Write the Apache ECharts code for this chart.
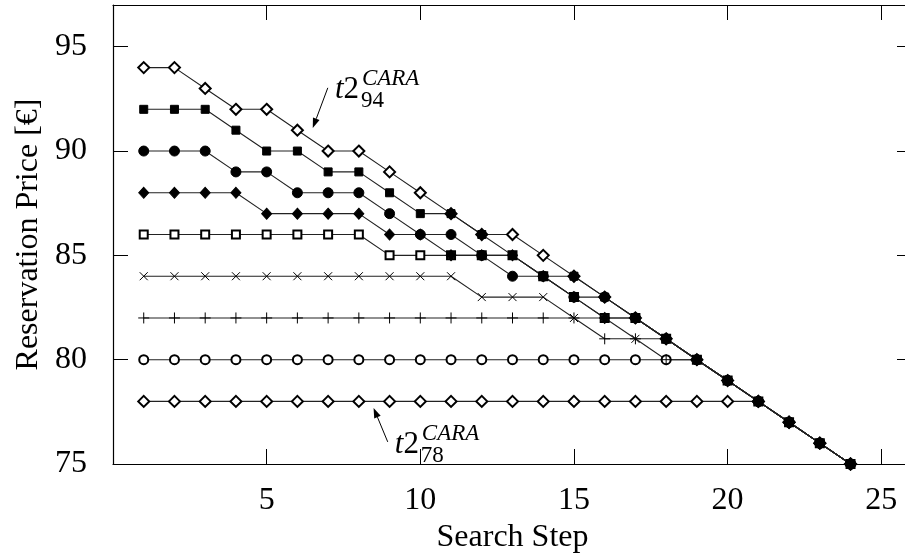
<!DOCTYPE html>
<html>
<head>
<meta charset="utf-8">
<script src="https://cdn.jsdelivr.net/npm/echarts@6/dist/echarts.min.js"></script>
<style>
  html, body { margin: 0; background: #fff; }
  #chart { width: 905px; height: 556px; }
</style>
</head>
<body>
<div id="chart"></div>
<script>
// search steps and reservation prices per starting price
const steps = [1, 2, 3, 4, 5, 6, 7, 8, 9, 10, 11, 12, 13, 14, 15, 16, 17, 18, 19, 20, 21, 22, 23, 24]
const p94 = [94, 94, 93, 92, 92, 91, 90, 90, 89, 88, 87, 86, 86, 85, 84, 83, 82, 81, 80, 79, 78, 77, 76, 75]
const p92 = [92, 92, 92, 91, 90, 90, 89, 89, 88, 87, 87, 86, 85, 84, 84, 83, 82, 81, 80, 79, 78, 77, 76, 75]
const p90 = [90, 90, 90, 89, 89, 88, 88, 88, 87, 86, 86, 85, 84, 84, 83, 83, 82, 81, 80, 79, 78, 77, 76, 75]
const p88 = [88, 88, 88, 88, 87, 87, 87, 87, 86, 86, 85, 85, 85, 84, 83, 82, 82, 81, 80, 79, 78, 77, 76, 75]
const p86 = [86, 86, 86, 86, 86, 86, 86, 86, 85, 85, 85, 85, 85, 84, 83, 82, 82, 81, 80, 79, 78, 77, 76, 75]
const p84 = [84, 84, 84, 84, 84, 84, 84, 84, 84, 84, 84, 83, 83, 83, 82, 82, 81, 81, 80, 79, 78, 77, 76, 75]
const p82 = [82, 82, 82, 82, 82, 82, 82, 82, 82, 82, 82, 82, 82, 82, 82, 81, 81, 80, 80, 79, 78, 77, 76, 75]
const p80 = [80, 80, 80, 80, 80, 80, 80, 80, 80, 80, 80, 80, 80, 80, 80, 80, 80, 80, 80, 79, 78, 77, 76, 75]
const p78 = [78, 78, 78, 78, 78, 78, 78, 78, 78, 78, 78, 78, 78, 78, 78, 78, 78, 78, 78, 78, 78, 77, 76, 75]

// annotation arrows (data coords): tail, head, label anchor
const arrowTop = [[6.99, 93.03], [6.5, 91.1]]
const arrowBottom = [[8.94, 76.06], [8.48, 77.69]]
const labelTop = { at: [7.22, 92.55], sub: '94' }
const labelBottom = { at: [9.17, 75.56], sub: '78' }

const FONT = "'Liberation Serif', 'DejaVu Serif', serif"
const crossPath = 'path://M0,0L10,10M10,0L0,10'
const plusPath = 'path://M5,0L5,10M0,5L10,5'

function line(name, values, symbol, size) {
  return {
    name: name,
    type: 'line',
    data: steps.map((s, i) => [s, values[i]]),
    symbol: symbol,
    symbolSize: size,
    showAllSymbol: true,
    lineStyle: { color: '#222', width: 1.1 },
    itemStyle: { color: '#000', borderColor: '#000', borderWidth: 1 },
    emphasis: { disabled: true },
    animation: false,
  }
}

const chart = echarts.init(document.getElementById('chart'))

const tickCommon = { show: true, inside: true, length: 15, lineStyle: { color: '#000', width: 1 } }
const lineCommon = { show: true, onZero: false, lineStyle: { color: '#000', width: 1.2 } }
const labelCommon = { color: '#000', fontFamily: FONT, fontSize: 32, showMaxLabel: false }

chart.setOption({
  backgroundColor: '#fff',
  animation: false,
  grid: { left: 113, right: -7, top: 5, bottom: 92, containLabel: false, outerBoundsMode: 'none' },
  xAxis: [
    {
      type: 'value', min: 0, max: 26, interval: 5,
      axisLine: lineCommon, axisTick: tickCommon,
      axisLabel: Object.assign({}, labelCommon, { margin: 21, formatter: v => (v % 5 || v === 0 ? '' : v) }),
      splitLine: { show: false },
      name: 'Search Step', nameLocation: 'middle', nameGap: 55,
      nameTextStyle: { color: '#000', fontFamily: FONT, fontSize: 32 },
    },
    {
      type: 'value', position: 'top', min: 0, max: 26, interval: 5,
      axisLine: lineCommon, axisTick: tickCommon, axisLabel: { show: false }, splitLine: { show: false },
    },
  ],
  yAxis: [
    {
      type: 'value', min: 75, max: 97, interval: 5,
      axisLine: lineCommon, axisTick: tickCommon,
      axisLabel: Object.assign({}, labelCommon, { margin: 26, formatter: v => (v % 5 ? '' : v) }),
      splitLine: { show: false },
      name: 'Reservation Price [€]', nameLocation: 'middle', nameGap: 68, nameRotate: 90,
      nameTextStyle: { color: '#000', fontFamily: FONT, fontSize: 32 },
    },
    {
      type: 'value', position: 'right', min: 75, max: 97, interval: 5,
      axisLine: lineCommon, axisTick: tickCommon, axisLabel: { show: false }, splitLine: { show: false },
    },
  ],
  series: [
    line('94', p94, 'emptyDiamond', [11, 11]),
    line('78', p78, 'emptyDiamond', [11, 11]),
    line('80', p80, 'emptyCircle', 9),
    line('82', p82, plusPath, 11),
    line('84', p84, crossPath, 8),
    line('86', p86, 'emptyRect', 8),
    line('88', p88, 'diamond', [10, 11]),
    line('90', p90, 'circle', 10),
    line('92', p92, 'rect', 8),
  ],
})

// annotations: arrows and labels placed from data coordinates
function arrow(pair) {
  const a = chart.convertToPixel({ gridIndex: 0 }, pair[0])
  const b = chart.convertToPixel({ gridIndex: 0 }, pair[1])
  const dx = b[0] - a[0], dy = b[1] - a[1]
  const len = Math.hypot(dx, dy)
  const ux = dx / len, uy = dy / len
  const hl = 10, hw = 3.5
  const base = [b[0] - ux * hl, b[1] - uy * hl]
  return [
    { type: 'line', shape: { x1: a[0], y1: a[1], x2: base[0], y2: base[1] }, style: { stroke: '#000', lineWidth: 1 } },
    {
      type: 'polygon',
      shape: { points: [b, [base[0] - uy * hw, base[1] + ux * hw], [base[0] + uy * hw, base[1] - ux * hw]] },
      style: { fill: '#000' },
    },
  ]
}

function label(l) {
  const p = chart.convertToPixel({ gridIndex: 0 }, l.at)
  return [
    {
      type: 'text', x: p[0], y: p[1] + 8,
      style: {
        text: '{i|t}{r|2}', verticalAlign: 'bottom',
        rich: {
          i: { fontFamily: FONT, fontStyle: 'italic', fontSize: 31, fill: '#000' },
          r: { fontFamily: FONT, fontSize: 31, fill: '#000' },
        },
      },
    },
    {
      type: 'text', x: p[0] + 27, y: p[1] - 12 + 5,
      style: { text: 'CARA', fontFamily: FONT, fontStyle: 'italic', fontSize: 23, fill: '#000', verticalAlign: 'bottom' },
    },
    {
      type: 'text', x: p[0] + 26, y: p[1] + 10 + 5,
      style: { text: l.sub, fontFamily: FONT, fontSize: 23, fill: '#000', verticalAlign: 'bottom' },
    },
  ]
}

chart.setOption({
  graphic: [].concat(arrow(arrowTop), arrow(arrowBottom), label(labelTop), label(labelBottom)),
})
</script>
</body>
</html>
